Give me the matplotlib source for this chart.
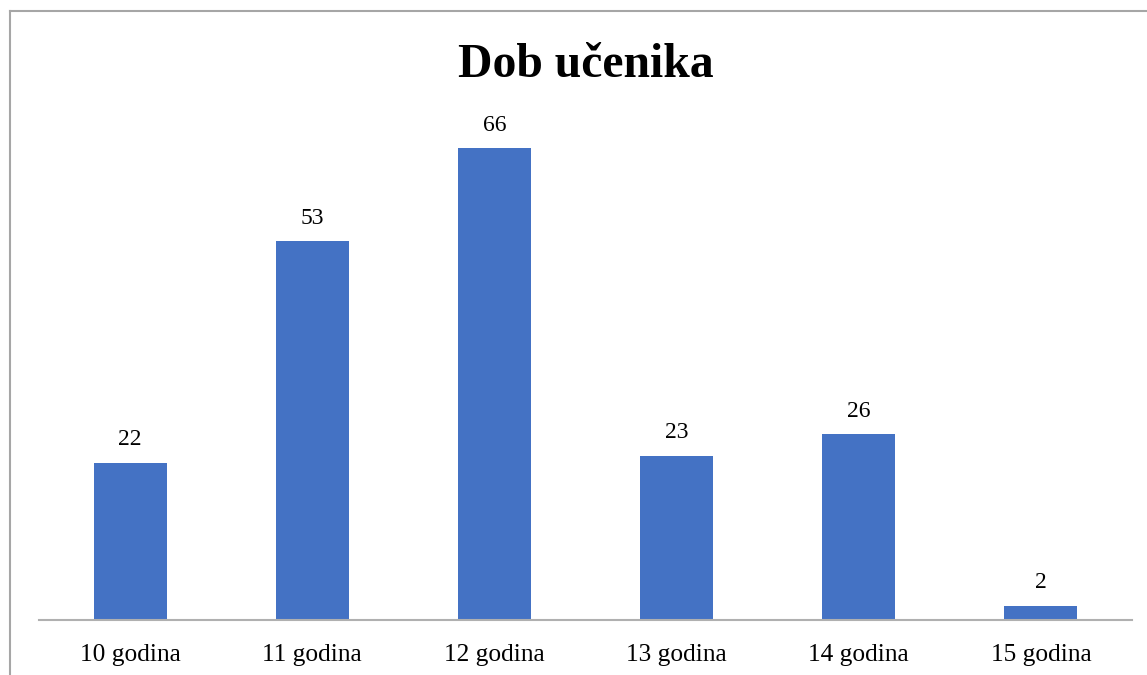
import matplotlib.pyplot as plt
from matplotlib.lines import Line2D

categories = ['10 godina', '11 godina', '12 godina', '13 godina', '14 godina', '15 godina']
values = [22, 53, 66, 23, 26, 2]

plt.rcParams['font.family'] = ['Liberation Serif', 'DejaVu Serif']

W, H = 1147, 675
fig = plt.figure(figsize=(W / 100, H / 100), dpi=100)

# axes placed by pixel positions of the reference
left, right, base, top = 39, 1132, 620, 119.5
ax = fig.add_axes([left / W, (H - base) / H, (right - left) / W, (base - top) / H])

x = range(len(categories))
bars = ax.bar(x, values, width=0.4, color='#4472C4')
ax.set_xlim(-0.5, len(categories) - 0.5)
ax.set_ylim(0, 70)

for b, v in zip(bars, values):
    ax.annotate(str(v), (b.get_x() + b.get_width() / 2, v), xytext=(0, 9),
                textcoords='offset points', ha='center', va='bottom', fontsize=17)

ax.set_xticks(list(x))
ax.set_xticklabels(categories, fontsize=18.3)
ax.tick_params(axis='x', length=0, pad=17)
ax.set_yticks([])
for s in ['left', 'right', 'top']:
    ax.spines[s].set_visible(False)
ax.spines['bottom'].set_color('#b0b0b0')
ax.spines['bottom'].set_linewidth(1.5)

fig.text(586 / W, 1 - 77 / H, 'Dob učenika', ha='center', va='baseline',
         fontsize=34.3, fontweight='bold')

# outer chart border (right and bottom parts fall outside the image)
fig.add_artist(Line2D([10 / W, 10 / W], [0, 1 - 11 / H], transform=fig.transFigure,
                      color='#a6a6a6', lw=1.5))
fig.add_artist(Line2D([10 / W, 1], [1 - 11 / H, 1 - 11 / H], transform=fig.transFigure,
                      color='#a6a6a6', lw=1.5))

fig.savefig('out.png', dpi=100)
